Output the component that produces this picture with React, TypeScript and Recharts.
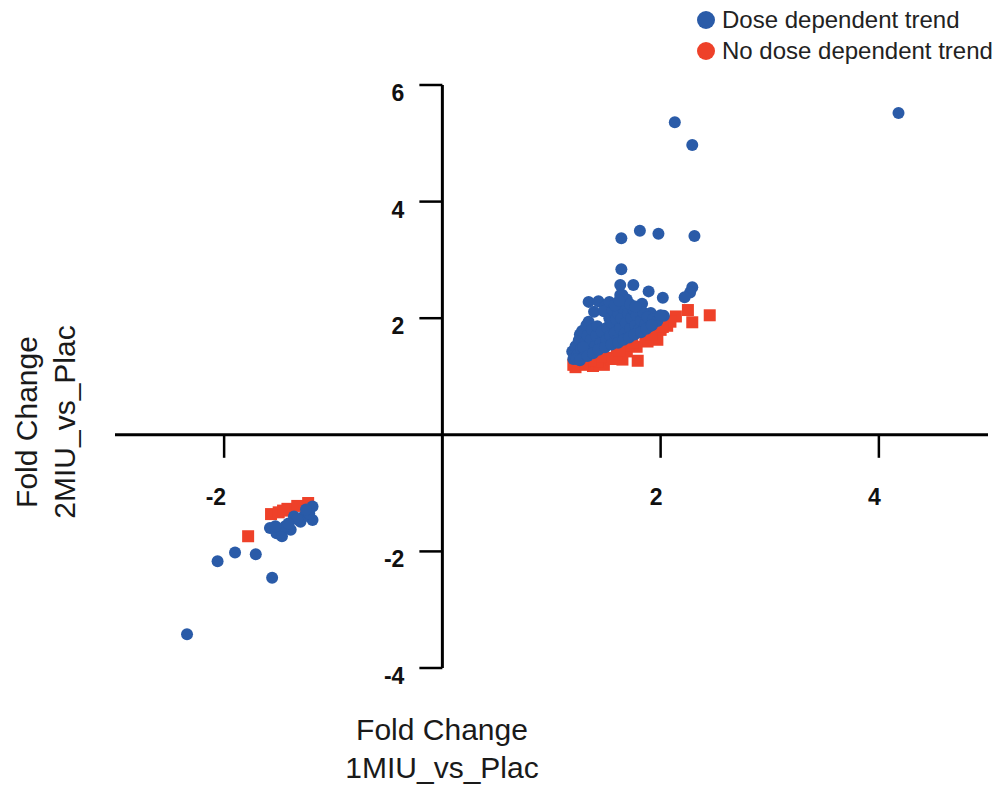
import { ScatterChart, Scatter, XAxis, YAxis, ReferenceLine, ReferenceDot, Legend } from "recharts"

// fold change pairs: [1MIU vs Plac, 2MIU vs Plac]
const doseTrendUp: [number, number][] = [
    [4.18, 5.52], [2.13, 5.36], [2.29, 4.97], [1.64, 3.37], [1.81, 3.50], [1.98, 3.45], [2.31, 3.41],
    [1.64, 2.84], [1.63, 2.57], [1.75, 2.57], [1.89, 2.46], [2.02, 2.35], [2.29, 2.53], [2.27, 2.44],
    [2.22, 2.36], [1.63, 2.40], [1.34, 2.28], [1.43, 2.29], [1.39, 2.11], [1.51, 2.23], [1.69, 2.32],
    [1.83, 2.25], [1.34, 1.94], [2.03, 2.04], [1.95, 2.02], [1.65, 2.40], [1.69, 2.20], [1.57, 2.09],
    [1.49, 2.20], [1.91, 2.09], [1.26, 1.72],
    [1.19, 1.43], [1.20, 1.30], [1.22, 1.52], [1.24, 1.38], [1.25, 1.62], [1.27, 1.47], [1.28, 1.78],
    [1.30, 1.35], [1.31, 1.58], [1.32, 1.88], [1.33, 1.70], [1.35, 1.45], [1.36, 1.62], [1.37, 1.80],
    [1.40, 1.52], [1.41, 1.70], [1.42, 1.86], [1.45, 1.58], [1.46, 1.77],
    [1.48, 2.12], [1.50, 1.62], [1.51, 1.84], [1.53, 2.00], [1.54, 1.70], [1.55, 1.92],
    [1.56, 2.14], [1.58, 1.75], [1.59, 1.98], [1.60, 1.62], [1.61, 2.08], [1.63, 1.83], [1.64, 2.00],
    [1.65, 2.18], [1.67, 1.74], [1.68, 1.92], [1.70, 2.08], [1.72, 1.82], [1.73, 2.00], [1.75, 2.15],
    [1.77, 1.88], [1.78, 2.05], [1.80, 1.80], [1.82, 1.96], [1.84, 2.10], [1.86, 1.90], [1.88, 2.02],
    [1.90, 1.86], [1.93, 1.98], [1.97, 1.95], [2.00, 2.05], [1.53, 2.28], [1.58, 2.22],
    [1.72, 2.24], [1.77, 2.20], [1.62, 2.30], [1.29, 1.50], [1.23, 1.30], [1.26, 1.28],
    [1.33, 1.35], [1.38, 1.40], [1.43, 1.46], [1.49, 1.50], [1.55, 1.55], [1.61, 1.58], [1.66, 1.63],
    [1.71, 1.67], [1.76, 1.72], [1.82, 1.76], [1.87, 1.82], [1.92, 1.88],
]

const doseTrendDown: [number, number][] = [
    [-2.34, -3.42], [-2.06, -2.17], [-1.90, -2.02], [-1.71, -2.05], [-1.56, -2.45], [-1.58, -1.60],
    [-1.52, -1.69], [-1.47, -1.74], [-1.39, -1.63], [-1.36, -1.40], [-1.30, -1.49], [-1.24, -1.32],
    [-1.19, -1.23], [-1.19, -1.46], [-1.27, -1.40], [-1.44, -1.57], [-1.53, -1.57], [-1.22, -1.35],
    [-1.33, -1.45], [-1.41, -1.52], [-1.25, -1.28],
]

const noTrendUp: [number, number][] = [
    [2.25, 2.14], [2.45, 2.05], [2.29, 1.93], [2.14, 2.03], [2.06, 1.87], [1.97, 1.63], [1.88, 1.60],
    [1.79, 1.27], [1.65, 1.29], [1.48, 1.20], [1.38, 1.18], [1.22, 1.16], [1.78, 1.51], [1.69, 1.43],
    [1.60, 1.37], [1.51, 1.32], [1.42, 1.26], [1.33, 1.22], [2.00, 1.80], [2.09, 1.94], [1.86, 1.69],
    [1.71, 1.54], [1.25, 1.22], [1.30, 1.25], [1.55, 1.30], [1.62, 1.45], [1.74, 1.58], [1.92, 1.72],
    [2.02, 1.85], [1.45, 1.35], [1.36, 1.28], [1.28, 1.20], [1.20, 1.20],
]

const noTrendDown: [number, number][] = [
    [-1.78, -1.74], [-1.57, -1.36], [-1.50, -1.33], [-1.42, -1.27], [-1.33, -1.22], [-1.23, -1.17],
    [-1.46, -1.30],
]

const xTicks = [-2, 2, 4]
const yTicks = [-4, -2, 2, 4, 6]
const seriesNames = ["Dose dependent trend", "No dose dependent trend"]
const seriesColors = ["#2a5ba8", "#ee4129"]

const font = "'Liberation Sans', Arial, Helvetica, sans-serif"

const toPoints = (pairs: [number, number][]) => pairs.map(([x, y]) => ({ x, y }))

const doseData = toPoints([...doseTrendUp, ...doseTrendDown])
const noTrendData = toPoints([...noTrendUp, ...noTrendDown])

function BlueDot(props: any) {
    return <circle cx={props.cx} cy={props.cy} r={6} fill={seriesColors[0]} />
}

function RedSquare(props: any) {
    return <rect x={props.cx - 6} y={props.cy - 6} width={12} height={12} fill={seriesColors[1]} />
}

// tick marks hang off the crossing axes, so they are drawn as dots on the axis lines
function XTick(props: any) {
    const { cx, cy, label } = props
    return (
        <g>
            <line x1={cx} y1={cy} x2={cx} y2={cy + 23} stroke="#000" strokeWidth={2.5} />
            <text x={cx + 2} y={cy + 62} textAnchor="end" dominantBaseline="central"
                fontFamily={font} fontWeight="bold" fontSize={23} fill="#111">{label}</text>
        </g>
    )
}

function YTick(props: any) {
    const { cx, cy, label } = props
    return (
        <g>
            <line x1={cx - 23} y1={cy} x2={cx} y2={cy} stroke="#000" strokeWidth={2.5} />
            <text x={cx - 38} y={cy + 8} textAnchor="end" dominantBaseline="central"
                fontFamily={font} fontWeight="bold" fontSize={23} fill="#111">{label}</text>
        </g>
    )
}

function LegendBox(props: any) {
    const items = [...(props.payload ?? [])].sort(
        (a: any, b: any) => seriesNames.indexOf(a.value) - seriesNames.indexOf(b.value)
    )
    return (
        <ul style={{ listStyle: "none", margin: 0, padding: 0 }}>
            {items.map((item: any) => (
                <li key={item.value} style={{ display: "flex", alignItems: "center", height: 31 }}>
                    <svg width={18} height={18} style={{ marginRight: 7 }}>
                        <circle cx={9} cy={9} r={9} fill={item.color} />
                    </svg>
                    <span style={{ color: "#222", fontSize: 24, fontFamily: font, whiteSpace: "nowrap" }}>{item.value}</span>
                </li>
            ))}
        </ul>
    )
}

export default function App() {
    return (
        <div style={{ position: "absolute", left: 0, top: 0, width: 1002, height: 789, background: "#fff", fontFamily: font }}>
            <ScatterChart width={1002} height={789} margin={{ top: 85, right: 14, bottom: 121, left: 115 }}>
                <XAxis type="number" dataKey="x" domain={[-3, 5]} hide />
                <YAxis type="number" dataKey="y" domain={[-4, 6]} hide />
                <ReferenceLine y={0} stroke="#000" strokeWidth={3} />
                <ReferenceLine x={0} stroke="#000" strokeWidth={3} />
                {xTicks.map((t) => (
                    <ReferenceDot key={`xt-${t}`} x={t} y={0} ifOverflow="visible"
                        shape={(p: any) => <XTick {...p} label={t} />} />
                ))}
                {yTicks.map((t) => (
                    <ReferenceDot key={`yt-${t}`} x={0} y={t} ifOverflow="visible"
                        shape={(p: any) => <YTick {...p} label={t} />} />
                ))}
                <Scatter name={seriesNames[1]} data={noTrendData} fill={seriesColors[1]}
                    shape={RedSquare} isAnimationActive={false} />
                <Scatter name={seriesNames[0]} data={doseData} fill={seriesColors[0]}
                    shape={BlueDot} isAnimationActive={false} />
                <Legend layout="vertical" align="center" verticalAlign="middle" content={LegendBox}
                    wrapperStyle={{ left: 697, top: 4, width: "auto" }} />
            </ScatterChart>

            <div style={{
                position: "absolute", left: 442, top: 711, transform: "translateX(-50%)",
                textAlign: "center", fontSize: 30, lineHeight: "38px", color: "#1a1a1a", whiteSpace: "nowrap",
            }}>
                Fold Change<br />1MIU_vs_Plac
            </div>
            <div style={{
                position: "absolute", left: 46, top: 422, transform: "translate(-50%, -50%) rotate(-90deg)",
                textAlign: "center", fontSize: 30, lineHeight: "38px", color: "#1a1a1a", whiteSpace: "nowrap",
            }}>
                Fold Change<br />2MIU_vs_Plac
            </div>
        </div>
    )
}
